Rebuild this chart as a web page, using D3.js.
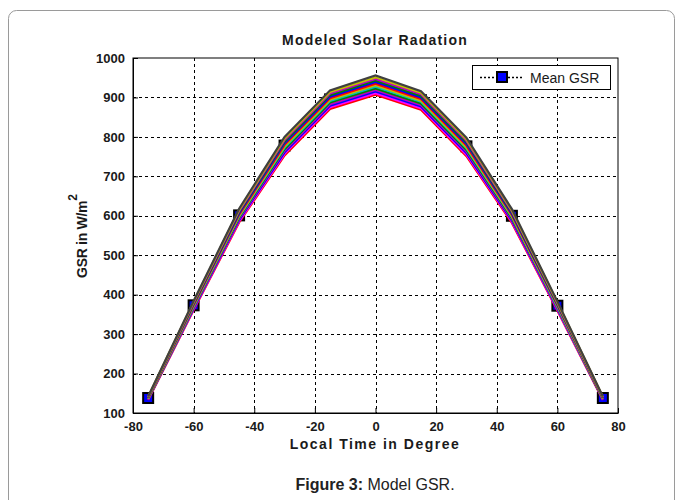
<!DOCTYPE html>
<html>
<head>
<meta charset="utf-8">
<script src="https://cdn.jsdelivr.net/npm/d3@7"></script>
<style>
  body { margin: 0; background: #fff; }
  svg { display: block; font-family: "Liberation Sans", Arial, sans-serif; }
</style>
</head>
<body>
<svg width="683" height="500"></svg>
<script>
// local time (degrees) where GSR was modeled
const hours = [-75, -60, -45, -30, -15, 0, 15, 30, 45, 60, 75];

// mean GSR (W/m^2)
const meanGSR = [138, 373, 601, 778, 895, 932, 893, 776, 600, 372, 138];

// individual modeled curves (bundle)
const curves = [
  [133, 361, 583, 753, 871, 907, 869, 751, 582, 360, 133],
  [134, 363, 586, 757, 875, 911, 873, 755, 585, 362, 134],
  [135, 365, 589, 761, 879, 915, 877, 759, 588, 364, 135],
  [135, 367, 592, 765, 883, 919, 881, 763, 591, 366, 135],
  [136, 369, 595, 769, 887, 923, 885, 767, 594, 368, 136],
  [137, 370, 598, 773, 891, 927, 889, 771, 597, 369, 137],
  [137, 372, 600, 776, 894, 931, 892, 774, 599, 371, 137],
  [138, 374, 603, 780, 898, 935, 896, 778, 602, 373, 138],
  [139, 376, 606, 784, 902, 939, 900, 782, 605, 375, 139],
  [139, 378, 609, 788, 906, 943, 904, 786, 608, 377, 139],
  [140, 380, 612, 792, 910, 947, 908, 790, 611, 379, 140],
  [141, 382, 615, 796, 914, 951, 912, 794, 614, 381, 141],
  [142, 384, 618, 800, 918, 956, 916, 798, 617, 383, 142]
];

const curveColors = ["#ff0000", "#ff00ff", "#0000ff", "#bf00bf", "#008000", "#00bfbf", "#bfbf00",
                     "#ff0000", "#0000ff", "#008000", "#bf00bf", "#bfbf00", "#404040"];

const xTicks = [-80, -60, -40, -20, 0, 20, 40, 60, 80];
const yTicks = [100, 200, 300, 400, 500, 600, 700, 800, 900, 1000];

const svg = d3.select("svg");

// outer figure frame
svg.append("rect")
  .attr("x", 8.5).attr("y", 10.5)
  .attr("width", 666).attr("height", 520)
  .attr("rx", 8)
  .attr("fill", "none")
  .attr("stroke", "#9a9a9a");

const L = 133, R = 618, T = 58, B = 413;
const x = d3.scaleLinear().domain([-80, 80]).range([L, R]);
const y = d3.scaleLinear().domain([100, 1000]).range([B, T]);

// grid
const grid = svg.append("g")
  .attr("stroke", "#000")
  .attr("stroke-width", 1)
  .attr("stroke-dasharray", "3,3");
grid.selectAll(".gx").data(xTicks.slice(1, -1)).enter().append("line")
  .attr("x1", d => Math.round(x(d)) + 0.5).attr("x2", d => Math.round(x(d)) + 0.5)
  .attr("y1", T).attr("y2", B);
grid.selectAll(".gy").data(yTicks.slice(1, -1)).enter().append("line")
  .attr("y1", d => Math.round(y(d)) + 0.5).attr("y2", d => Math.round(y(d)) + 0.5)
  .attr("x1", L).attr("x2", R);

// axes
const fmt = d => String(d);
const xAxis = svg.append("g")
  .attr("transform", `translate(0,${B})`)
  .call(d3.axisBottom(x).tickValues(xTicks).tickFormat(fmt).tickSizeInner(-5).tickSizeOuter(0).tickPadding(9));
const yAxis = svg.append("g")
  .attr("transform", `translate(${L},0)`)
  .call(d3.axisLeft(y).tickValues(yTicks).tickFormat(fmt).tickSizeInner(-5).tickSizeOuter(0).tickPadding(8));
[xAxis, yAxis].forEach(a => {
  a.selectAll("text")
    .attr("font-family", "Liberation Sans, Arial, sans-serif")
    .attr("font-size", 13).attr("font-weight", "bold").attr("fill", "#1a1a1a");
  a.select(".domain").attr("stroke", "#000");
});
// box top/right
svg.append("rect")
  .attr("x", L).attr("y", T).attr("width", R - L).attr("height", B - T)
  .attr("fill", "none").attr("stroke", "#000");

const line = d3.line().x((d, i) => x(hours[i])).y(d => y(d));

// mean GSR (drawn beneath bundle)
svg.append("path")
  .datum(meanGSR)
  .attr("d", line)
  .attr("fill", "none").attr("stroke", "#000")
  .attr("stroke-width", 1.5).attr("stroke-dasharray", "2,2");
svg.selectAll(".mk").data(meanGSR).enter().append("rect")
  .attr("x", (d, i) => x(hours[i]) - 5).attr("y", d => y(d) - 5)
  .attr("width", 10).attr("height", 10)
  .attr("fill", "#0000ff").attr("stroke", "#000").attr("stroke-width", 2);

// bundle of curves
svg.append("g").selectAll("path").data(curves).enter().append("path")
  .attr("d", line)
  .attr("fill", "none")
  .attr("stroke", (d, i) => curveColors[i])
  .attr("stroke-width", 2.2)
  .attr("stroke-linejoin", "miter");

// title and labels
svg.append("text")
  .attr("x", 375).attr("y", 45).attr("text-anchor", "middle")
  .attr("font-size", 14).attr("font-weight", "bold").attr("letter-spacing", 1.2)
  .attr("fill", "#1a1a1a")
  .text("Modeled Solar Radation");

svg.append("text")
  .attr("x", 375).attr("y", 449).attr("text-anchor", "middle")
  .attr("font-size", 14).attr("font-weight", "bold").attr("letter-spacing", 1.5)
  .attr("fill", "#1a1a1a")
  .text("Local Time in Degree");

const yl = svg.append("text")
  .attr("transform", "translate(87,236) rotate(-90)")
  .attr("text-anchor", "middle")
  .attr("font-size", 14).attr("font-weight", "bold")
  .attr("fill", "#1a1a1a");
yl.append("tspan").attr("letter-spacing", -0.3).text("GSR in W/m");
yl.append("tspan").attr("dy", -10).attr("font-size", 12).text("2");

// legend
const lg = svg.append("g");
lg.append("rect")
  .attr("x", 472.5).attr("y", 65.5).attr("width", 138).attr("height", 24)
  .attr("fill", "#fff").attr("stroke", "#000");
lg.append("line")
  .attr("x1", 480).attr("x2", 523).attr("y1", 77.5).attr("y2", 77.5)
  .attr("stroke", "#000").attr("stroke-width", 1.5).attr("stroke-dasharray", "2,2");
lg.append("rect")
  .attr("x", 497).attr("y", 72).attr("width", 10).attr("height", 10)
  .attr("fill", "#0000ff").attr("stroke", "#000").attr("stroke-width", 2);
lg.append("text")
  .attr("x", 530).attr("y", 82.5)
  .attr("font-size", 14).attr("fill", "#1a1a1a")
  .text("Mean GSR");

// caption
const cap = svg.append("text")
  .attr("x", 375).attr("y", 490).attr("text-anchor", "middle")
  .attr("font-size", 16).attr("fill", "#222");
cap.append("tspan").attr("font-weight", "bold").text("Figure 3:");
cap.append("tspan").text(" Model GSR.");
</script>
</body>
</html>
